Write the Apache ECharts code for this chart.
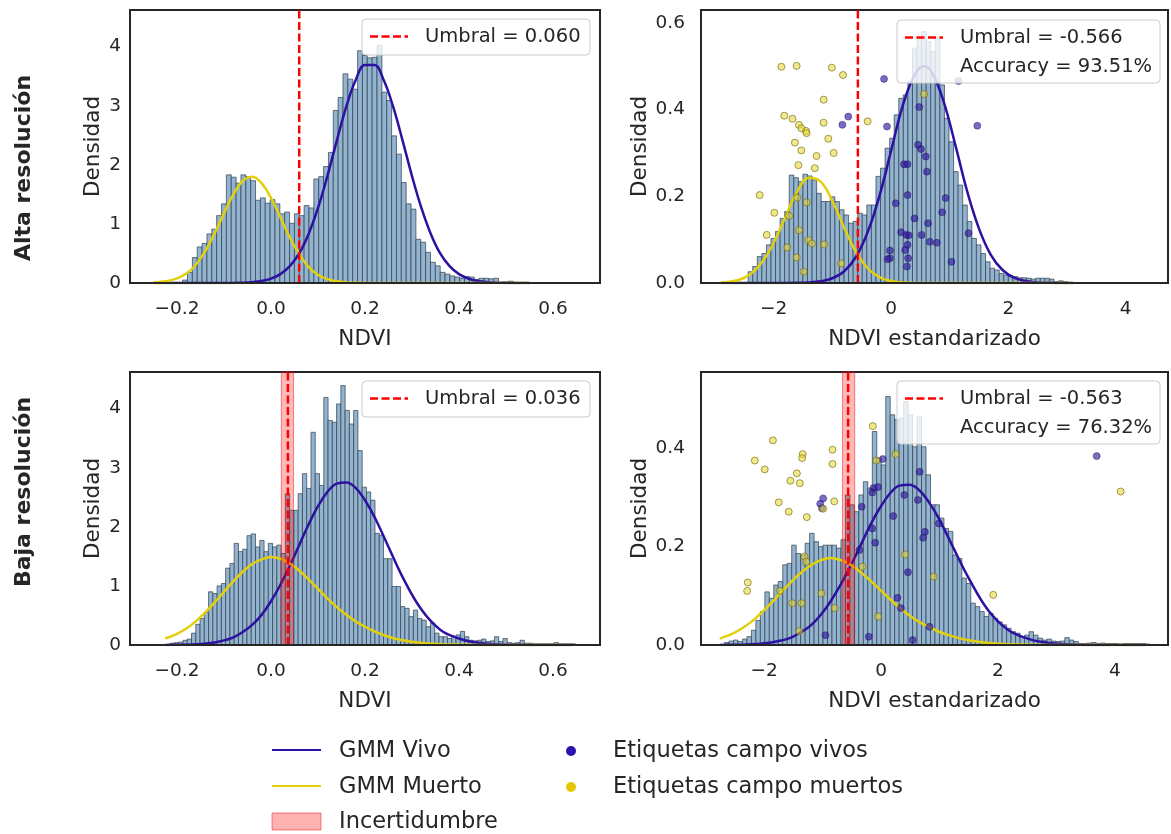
<!DOCTYPE html>
<html>
<head>
<meta charset="utf-8">
<title>GMM NDVI</title>
<script src="https://cdn.jsdelivr.net/npm/echarts@6.0.0/dist/echarts.min.js"></script>
<style>
  html, body { margin: 0; padding: 0; background: #fff; }
  #grafica { width: 1171px; height: 834px; }
</style>
</head>
<body>
<div id="grafica"></div>
<script>
// ---- Histogramas (densidad por bin) ----
var alta_ndvi_inicio = -0.188, alta_ndvi_ancho = 0.01034;
var alta_ndvi_dens = [0.05,0.18,0.43,0.61,0.67,0.83,0.91,1.14,1.34,1.83,
  1.79,1.69,1.83,1.80,1.73,1.40,1.44,1.35,1.41,1.34,
  1.17,1.20,1.01,1.17,1.14,1.31,1.27,1.76,1.80,1.97,
  2.21,2.92,3.14,3.54,3.45,3.28,3.93,3.85,3.81,3.82,
  4.02,3.23,3.09,2.49,2.18,1.70,1.34,1.25,0.74,0.69,
  0.52,0.35,0.29,0.18,0.15,0.12,0.10,0.08,0.11,0.10,
  0.06,0.08,0.08,0.07,0.08,0.01,0.02,0.03,0.01,0.01];

var alta_z_inicio = -2.436, alta_z_ancho = 0.0778;
var alta_z_dens = [0.026,0.038,0.061,0.068,0.088,0.103,0.119,0.149,0.165,0.249,
  0.243,0.234,0.251,0.247,0.238,0.207,0.188,0.188,0.199,0.188,
  0.169,0.157,0.138,0.142,0.161,0.157,0.180,0.180,0.246,0.265,
  0.311,0.334,0.388,0.426,0.434,0.465,0.542,0.565,0.580,0.557,
  0.534,0.565,0.457,0.380,0.326,0.257,0.226,0.180,0.142,0.103,
  0.088,0.068,0.049,0.034,0.030,0.022,0.018,0.017,0.015,0.012,
  0.012,0.011,0.009,0.011,0.011,0.011,0.009,0.003,0.005,0.003];

var baja_ndvi_inicio = -0.2145, baja_ndvi_ancho = 0.009078;
var baja_ndvi_dens = [0.03,0.04,0.05,0.08,0.10,0.20,0.35,0.45,0.55,0.90,
  0.87,1.00,1.04,1.30,1.38,1.72,1.58,1.62,1.85,1.88,
  1.66,1.77,1.58,1.72,1.66,1.69,1.55,2.56,2.28,2.28,
  2.56,2.90,2.65,3.60,2.90,2.70,4.19,3.80,3.77,4.08,
  4.39,3.97,3.74,3.97,3.29,2.67,2.59,2.45,1.89,1.86,
  1.46,1.46,0.99,0.99,0.65,0.62,0.48,0.59,0.45,0.42,
  0.31,0.37,0.20,0.14,0.14,0.11,0.14,0.17,0.23,0.14,
  0.08,0.07,0.08,0.10,0.06,0.07,0.14,0.06,0.11,0.04,
  0.03,0.04,0.08,0.03,0.03,0.02,0.02,0.02,0.02,0.02,
  0.04,0.02,0.02,0.02,0.02];

var baja_z_inicio = -2.677, baja_z_ancho = 0.0766;
var baja_z_dens = [0.005,0.008,0.010,0.007,0.012,0.017,0.030,0.050,0.068,0.108,
  0.095,0.122,0.129,0.163,0.166,0.203,0.186,0.183,0.207,0.227,
  0.210,0.200,0.203,0.203,0.203,0.197,0.214,0.305,0.285,0.271,
  0.305,0.332,0.319,0.434,0.380,0.366,0.505,0.468,0.458,0.461,
  0.495,0.468,0.403,0.464,0.403,0.346,0.285,0.285,0.258,0.237,
  0.231,0.183,0.176,0.136,0.125,0.085,0.078,0.068,0.058,0.064,
  0.054,0.047,0.041,0.034,0.027,0.024,0.017,0.020,0.027,0.020,
  0.014,0.010,0.012,0.008,0.007,0.008,0.015,0.010,0.007,0.003,
  0.003,0.004,0.005,0.003,0.004,0.003,0.003,0.003,0.002,0.003,
  0.003,0.003,0.003,0.003,0.002];

// ---- Curvas GMM ----
var alta_ndvi_x = [-0.25,-0.22,-0.20,-0.18,-0.16,-0.14,-0.12,-0.10,-0.08,-0.06,-0.04,-0.02,0.00,0.02,0.04,0.06,0.08,0.10,0.12,0.14,0.16,0.18,0.20,0.22,0.24,0.26,0.28,0.30,0.32,0.34,0.36,0.38,0.40,0.42,0.44,0.47,0.50,0.55];
var alta_ndvi_vivo = [0,0,0,0,0,0,0,0.001,0.002,0.005,0.014,0.034,0.074,0.15,0.285,0.50,0.83,1.27,1.81,2.41,2.98,3.43,3.69,3.69,3.43,2.98,2.41,1.81,1.27,0.83,0.50,0.285,0.15,0.074,0.034,0.009,0.002,0];
var alta_ndvi_muerto = [0.008,0.033,0.077,0.16,0.31,0.54,0.84,1.18,1.50,1.73,1.80,1.69,1.44,1.11,0.77,0.49,0.27,0.14,0.066,0.028,0.01,0.004,0.001,0,0,0,0,0,0,0,0,0,0,0,0,0,0,0];

var alta_z_x = [-2.9,-2.6,-2.4,-2.2,-2.0,-1.8,-1.6,-1.4,-1.2,-1.0,-0.8,-0.6,-0.4,-0.2,0.0,0.2,0.4,0.56,0.7,0.9,1.1,1.3,1.5,1.7,1.9,2.1,2.4,2.8,3.1];
var alta_z_vivo = [0,0,0,0,0,0,0.0003,0.0012,0.004,0.011,0.027,0.06,0.117,0.20,0.305,0.41,0.48,0.50,0.485,0.417,0.316,0.21,0.125,0.065,0.03,0.012,0.0024,0.0002,0];
var alta_z_muerto = [0.001,0.007,0.020,0.048,0.093,0.153,0.211,0.243,0.234,0.189,0.128,0.072,0.034,0.0135,0.0045,0.001,0,0,0,0,0,0,0,0,0,0,0,0,0];

var baja_ndvi_x = [-0.225,-0.20,-0.18,-0.16,-0.14,-0.12,-0.10,-0.08,-0.06,-0.04,-0.02,0.00,0.02,0.04,0.06,0.08,0.10,0.12,0.14,0.16,0.18,0.20,0.22,0.25,0.28,0.32,0.36,0.40,0.43,0.46,0.50,0.55,0.64];
var baja_ndvi_vivo = [0.001,0.003,0.006,0.012,0.023,0.043,0.078,0.13,0.22,0.34,0.51,0.74,1.02,1.34,1.69,2.04,2.35,2.59,2.73,2.75,2.66,2.45,2.17,1.66,1.15,0.60,0.26,0.11,0.05,0.02,0.006,0.002,0];
var baja_ndvi_muerto = [0.11,0.19,0.28,0.40,0.55,0.72,0.90,1.08,1.24,1.37,1.45,1.49,1.46,1.38,1.26,1.11,0.95,0.79,0.64,0.51,0.40,0.31,0.23,0.14,0.08,0.035,0.014,0.005,0.002,0.001,0,0,0];

var baja_z_x = [-2.76,-2.55,-2.39,-2.22,-2.05,-1.88,-1.71,-1.54,-1.37,-1.20,-1.04,-0.867,-0.698,-0.529,-0.36,-0.192,-0.023,0.146,0.315,0.484,0.652,0.821,0.99,1.24,1.50,1.83,2.17,2.51,2.76,3.02,3.35,3.78,4.53];
var baja_z_vivo = [0.0001,0.0004,0.0007,0.0014,0.0027,0.005,0.009,0.015,0.026,0.040,0.060,0.088,0.121,0.159,0.200,0.242,0.278,0.307,0.324,0.326,0.315,0.290,0.257,0.197,0.136,0.071,0.031,0.013,0.006,0.0024,0.0007,0.0002,0];
var baja_z_muerto = [0.013,0.0225,0.033,0.047,0.065,0.085,0.107,0.128,0.147,0.162,0.172,0.177,0.173,0.164,0.149,0.132,0.113,0.094,0.076,0.060,0.047,0.037,0.027,0.017,0.0095,0.004,0.0017,0.0006,0.0002,0.0001,0,0,0];

// ---- Umbrales e incertidumbre ----
var umbrales = [0.060, -0.566, 0.036, -0.563];
var banda_baja_ndvi = [0.022, 0.048];
var banda_baja_z = [-0.66, -0.45];

// ---- Etiquetas de campo (NDVI estandarizado, densidad) ----
var alta_vivos = [[-0.12,0.471],[-0.73,0.384],[-0.83,0.365],[-0.07,0.361],[1.47,0.363],[0.48,0.406],[0.46,0.319],[0.51,0.309],[0.59,0.292],[0.22,0.274],[0.28,0.274],[0.61,0.257],[0.08,0.184],[0.28,0.203],[0.93,0.196],[0.87,0.163],[0.40,0.149],[0.63,0.138],[0.17,0.117],[0.26,0.111],[0.30,0.110],[0.52,0.111],[0.66,0.095],[0.78,0.093],[1.32,0.115],[0.28,0.088],[-0.02,0.075],[0.24,0.076],[-0.02,0.057],[-0.06,0.055],[0.29,0.057],[0.27,0.038],[1.03,0.049],[1.15,0.466]];
var alta_muertos = [[-1.87,0.499],[-1.61,0.501],[-1.01,0.497],[-0.82,0.480],[-1.15,0.423],[-1.82,0.386],[-1.68,0.379],[-1.57,0.365],[-1.53,0.357],[-1.45,0.351],[-1.44,0.346],[-1.15,0.370],[-0.40,0.373],[-1.64,0.324],[-1.07,0.333],[-1.53,0.306],[-0.98,0.300],[-1.27,0.293],[-1.58,0.272],[-1.30,0.265],[-2.24,0.203],[-1.60,0.197],[-1.44,0.186],[-1.99,0.162],[-1.74,0.155],[-2.12,0.111],[-1.57,0.122],[-1.41,0.099],[-1.35,0.091],[-1.14,0.089],[-1.77,0.082],[-1.61,0.059],[-1.49,0.026],[0.56,0.436],[-0.85,0.045]];
var baja_vivos = [[0.03,0.378],[-0.99,0.298],[-1.04,0.287],[-1.01,0.278],[-0.13,0.319],[-0.05,0.321],[-0.15,0.310],[-0.33,0.281],[-0.15,0.237],[-0.10,0.208],[-0.37,0.193],[0.40,0.305],[0.63,0.295],[0.66,0.352],[0.21,0.262],[0.75,0.230],[0.72,0.218],[0.99,0.247],[0.46,0.148],[0.28,0.096],[0.34,0.075],[0.83,0.037],[-0.95,0.020],[-0.21,0.017],[0.54,0.010],[3.69,0.384]];
var baja_muertos = [[-1.85,0.416],[-2.16,0.375],[-1.99,0.357],[-1.34,0.388],[-1.35,0.380],[-0.83,0.397],[-0.83,0.368],[-1.44,0.349],[-1.55,0.334],[-1.39,0.329],[-1.75,0.290],[-1.58,0.271],[-1.27,0.260],[-0.80,0.292],[-0.99,0.277],[-0.14,0.445],[-0.08,0.375],[0.25,0.388],[-2.28,0.127],[-2.29,0.110],[-1.31,0.180],[-1.28,0.169],[-1.73,0.110],[-1.52,0.085],[-1.36,0.085],[-0.79,0.075],[-1.02,0.105],[-0.32,0.159],[0.41,0.184],[0.90,0.139],[1.92,0.102],[-0.05,0.058],[-1.40,0.028],[4.10,0.312]];

// ---- Ejes ----
var ticks_ndvi = [-0.2, 0.0, 0.2, 0.4, 0.6];
var ticks_z = [-2, 0, 2, 4];
var ticks_dens = [0, 1, 2, 3, 4];
var ticks_dens_alta_z = [0, 0.2, 0.4, 0.6];
var ticks_dens_baja_z = [0, 0.2, 0.4];

// ---- Estilo ----
var fuente = '"DejaVu Sans", sans-serif';
var texto = '#262626';
var marco = '#262626';
var colorVivo = '#2c11a3';
var colorMuerto = '#e3cf0a';
var rojo = '#ff0000';

function fmt(v, dec) {
  var s = Math.abs(v).toFixed(dec);
  return (v < -1e-9 ? '\u2212' : '') + s;
}

function barras(inicio, ancho, dens) {
  return dens.map(function (h, k) {
    return [inicio + k * ancho, inicio + (k + 1) * ancho, h];
  });
}

function pares(xs, ys) {
  return xs.map(function (x, k) { return [x, ys[k]]; });
}

function renderBarra(params, api) {
  var p0 = api.coord([api.value(0), api.value(2)]);
  var p1 = api.coord([api.value(1), 0]);
  return {
    type: 'rect',
    shape: { x: p0[0], y: p0[1], width: p1[0] - p0[0], height: p1[1] - p0[1] },
    style: { fill: '#93b4d0', stroke: '#2f3d4a', lineWidth: 0.7 }
  };
}

function renderBanda(params, api) {
  var a = api.coord([api.value(0), 0]);
  var b = api.coord([api.value(1), 0]);
  var cs = params.coordSys;
  return {
    type: 'rect',
    shape: { x: a[0], y: cs.y, width: b[0] - a[0], height: cs.height },
    style: { fill: 'rgba(255,0,0,0.28)', stroke: 'rgba(230,0,0,0.45)', lineWidth: 1 }
  };
}

function ejeX(i, min, max, ticks, dec, nombre) {
  return {
    type: 'value', gridIndex: i, min: min, max: max, z: 10,
    name: nombre, nameLocation: 'middle', nameGap: 45,
    nameTextStyle: { fontSize: 21.5, color: texto, fontFamily: fuente },
    axisLine: { show: true, onZero: false, lineStyle: { color: marco, width: 2 } },
    axisTick: { show: false },
    splitLine: { show: false },
    axisLabel: {
      customValues: ticks, margin: 17, fontSize: 18.5, color: texto, fontFamily: fuente,
      formatter: function (v) { return fmt(v, dec); }
    }
  };
}

function ejeY(i, max, ticks, dec, margen, gap) {
  return {
    type: 'value', gridIndex: i, min: 0, max: max,
    name: 'Densidad', nameLocation: 'middle', nameGap: gap,
    nameTextStyle: { fontSize: 21.5, color: texto, fontFamily: fuente },
    axisLine: { show: false },
    axisTick: { show: false },
    splitLine: { show: false },
    axisLabel: {
      customValues: ticks, margin: margen, fontSize: 18.5, color: texto, fontFamily: fuente,
      formatter: function (v) { return fmt(v, dec); }
    }
  };
}

var yMax = [4.62, 0.63, 4.62, 0.555];

var series = [];
function panel(i, hist, cx, vivo, muerto, banda, vivos, muertos) {
  series.push({
    type: 'custom', xAxisIndex: i, yAxisIndex: i, z: 2, silent: true,
    renderItem: renderBarra, encode: { x: [0, 1], y: 2 }, data: hist
  });
  series.push({
    name: 'GMM Vivo', type: 'line', xAxisIndex: i, yAxisIndex: i, z: 3,
    symbol: 'none', smooth: 0.4, data: pares(cx, vivo),
    lineStyle: { color: colorVivo, width: 2.5 }, itemStyle: { color: colorVivo }
  });
  series.push({
    name: 'GMM Muerto', type: 'line', xAxisIndex: i, yAxisIndex: i, z: 3,
    symbol: 'none', smooth: 0.4, data: pares(cx, muerto),
    lineStyle: { color: colorMuerto, width: 2.5 }, itemStyle: { color: colorMuerto }
  });
  if (banda) {
    series.push({
      name: 'Incertidumbre', type: 'custom', xAxisIndex: i, yAxisIndex: i, z: 4, silent: true,
      renderItem: renderBanda, encode: { x: [0, 1], y: 2 }, data: [[banda[0], banda[1], 0]]
    });
  }
  series.push({
    type: 'line', xAxisIndex: i, yAxisIndex: i, z: 5, symbol: 'none', silent: true,
    data: [[umbrales[i], 0], [umbrales[i], yMax[i]]],
    lineStyle: { color: rojo, width: 2.5, type: [8, 3.5] }
  });
  if (vivos) {
    series.push({
      name: 'Etiquetas campo vivos', type: 'scatter', xAxisIndex: i, yAxisIndex: i, z: 6,
      symbolSize: 7, data: vivos,
      itemStyle: { color: 'rgba(48,24,160,0.8)', borderColor: 'rgba(25,15,90,0.9)', borderWidth: 0.6 }
    });
    series.push({
      name: 'Etiquetas campo muertos', type: 'scatter', xAxisIndex: i, yAxisIndex: i, z: 6,
      symbolSize: 7, data: muertos,
      itemStyle: { color: 'rgba(230,214,50,0.7)', borderColor: 'rgba(115,105,15,0.9)', borderWidth: 0.9 }
    });
  }
}

panel(0, barras(alta_ndvi_inicio, alta_ndvi_ancho, alta_ndvi_dens), alta_ndvi_x, alta_ndvi_vivo, alta_ndvi_muerto);
panel(1, barras(alta_z_inicio, alta_z_ancho, alta_z_dens), alta_z_x, alta_z_vivo, alta_z_muerto, null, alta_vivos, alta_muertos);
panel(2, barras(baja_ndvi_inicio, baja_ndvi_ancho, baja_ndvi_dens), baja_ndvi_x, baja_ndvi_vivo, baja_ndvi_muerto, banda_baja_ndvi);
panel(3, barras(baja_z_inicio, baja_z_ancho, baja_z_dens), baja_z_x, baja_z_vivo, baja_z_muerto, banda_baja_z, baja_vivos, baja_muertos);

// ---- Leyendas dibujadas (cajas internas y leyenda inferior) ----
function txt(x, y, s, size, extra) {
  var st = { text: s, x: 0, y: 0, fill: texto, font: (extra || '') + size + 'px ' + fuente, align: 'left', verticalAlign: 'middle' };
  return { type: 'text', x: x, y: y, z: 100, style: st };
}
function cajaUmbral(x, y, w, h, filas) {
  var g = [{ type: 'rect', z: 99, shape: { x: x, y: y, width: w, height: h, r: 4 },
    style: { fill: 'rgba(255,255,255,0.8)', stroke: '#cccccc', lineWidth: 1 } }];
  var cy = y + 17.5;
  g.push({ type: 'line', z: 100, shape: { x1: x + 8, y1: cy, x2: x + 46, y2: cy },
    style: { stroke: rojo, lineWidth: 2.5, lineDash: [8, 3.5] } });
  filas.forEach(function (s, k) { g.push(txt(x + 63, cy + k * 29.4, s, 19.5)); });
  return g;
}

var graficos = [].concat(
  cajaUmbral(362, 19, 228, 36, ['Umbral = 0.060']),
  cajaUmbral(897, 20, 263, 63, ['Umbral = -0.566', 'Accuracy = 93.51%']),
  cajaUmbral(362, 381, 228, 36, ['Umbral = 0.036']),
  cajaUmbral(897, 381, 263, 63, ['Umbral = -0.563', 'Accuracy = 76.32%']),
  [
    { type: 'text', x: 24, y: 168, rotation: Math.PI / 2, z: 100,
      style: { text: 'Alta resolución', x: 0, y: 0, fill: texto, font: 'bold 22px ' + fuente, align: 'center', verticalAlign: 'middle' } },
    { type: 'text', x: 24, y: 492, rotation: Math.PI / 2, z: 100,
      style: { text: 'Baja resolución', x: 0, y: 0, fill: texto, font: 'bold 22px ' + fuente, align: 'center', verticalAlign: 'middle' } },
    { type: 'line', z: 100, shape: { x1: 272, y1: 750, x2: 321, y2: 750 }, style: { stroke: colorVivo, lineWidth: 2.2 } },
    txt(339, 751, 'GMM Vivo', 22.5),
    { type: 'line', z: 100, shape: { x1: 272, y1: 786, x2: 321, y2: 786 }, style: { stroke: colorMuerto, lineWidth: 2.2 } },
    txt(339, 787, 'GMM Muerto', 22.5),
    { type: 'rect', z: 100, shape: { x: 272, y: 813, width: 49, height: 17 },
      style: { fill: 'rgba(255,0,0,0.3)', stroke: 'rgba(230,0,0,0.45)', lineWidth: 1 } },
    txt(339, 822, 'Incertidumbre', 22.5),
    { type: 'circle', z: 100, shape: { cx: 571, cy: 751, r: 5 }, style: { fill: '#2f10b0' } },
    txt(613, 751, 'Etiquetas campo vivos', 22.5),
    { type: 'circle', z: 100, shape: { cx: 571, cy: 787, r: 5 }, style: { fill: '#e3c800' } },
    txt(613, 787, 'Etiquetas campo muertos', 22.5)
  ]
);

var gridBase = { show: true, borderColor: marco, borderWidth: 2, backgroundColor: 'transparent', outerBoundsMode: 'none' };
function rejilla(l, t, w, h) {
  return Object.assign({ left: l, top: t, width: w, height: h }, gridBase);
}

var chart = echarts.init(document.getElementById('grafica'), null, { renderer: 'canvas' });
chart.setOption({
  animation: false,
  backgroundColor: '#ffffff',
  textStyle: { fontFamily: fuente },
  grid: [
    rejilla(130, 10, 470, 273),
    rejilla(701, 10, 467, 273),
    rejilla(130, 372, 470, 273),
    rejilla(701, 372, 467, 273)
  ],
  xAxis: [
    ejeX(0, -0.3, 0.7, ticks_ndvi, 1, 'NDVI'),
    ejeX(1, -3.24, 4.72, ticks_z, 0, 'NDVI estandarizado'),
    ejeX(2, -0.3, 0.7, ticks_ndvi, 1, 'NDVI'),
    ejeX(3, -3.08, 4.91, ticks_z, 0, 'NDVI estandarizado')
  ],
  yAxis: [
    ejeY(0, yMax[0], ticks_dens, 0, 9, 26),
    ejeY(1, yMax[1], ticks_dens_alta_z, 1, 16, 48),
    ejeY(2, yMax[2], ticks_dens, 0, 9, 26),
    ejeY(3, yMax[3], ticks_dens_baja_z, 1, 16, 48)
  ],
  series: series,
  graphic: graficos
});
</script>
</body>
</html>
